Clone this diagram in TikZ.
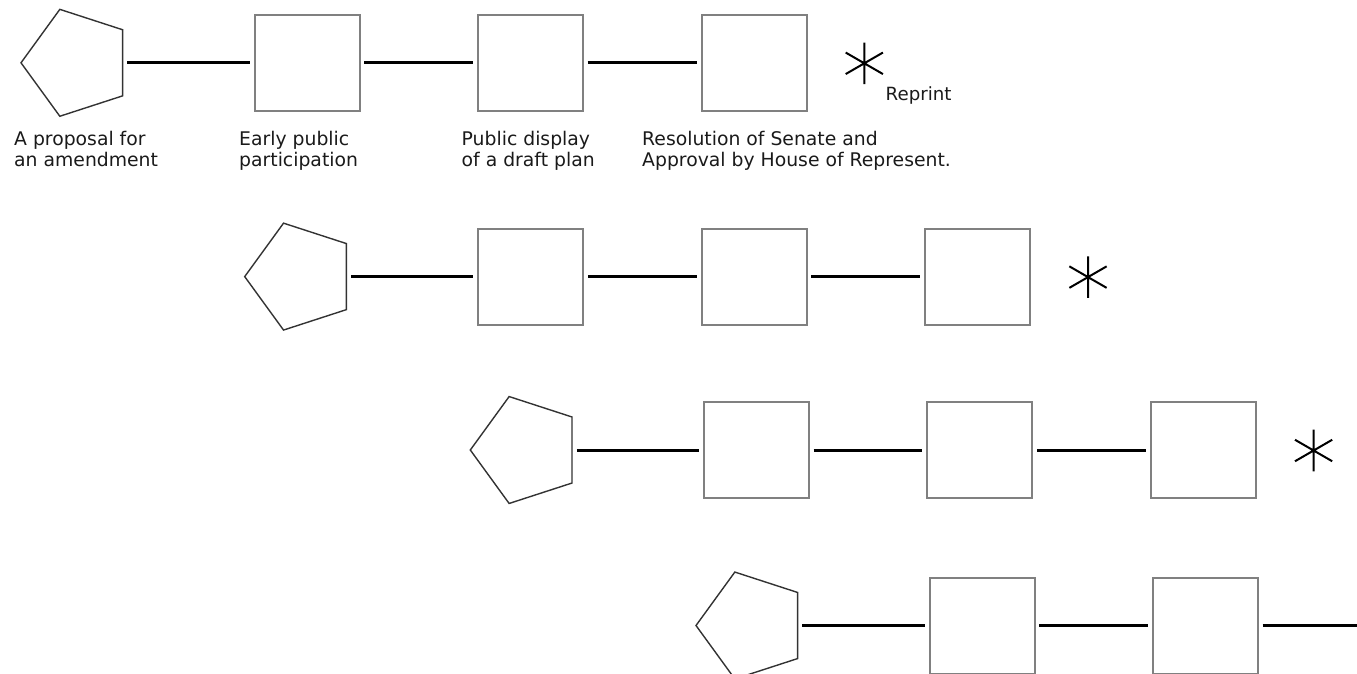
\documentclass[tikz,border=0pt]{standalone}
\usepackage{fontspec}
\setmainfont{DejaVu Sans}
\usetikzlibrary{shapes.geometric}
\definecolor{boxgray}{HTML}{808080}
\definecolor{pentgray}{HTML}{333333}
\definecolor{txt}{HTML}{1A1A1A}
\tikzset{
  pent/.style={regular polygon, regular polygon sides=5, shape border rotate=90,
    minimum size=112.4pt, inner sep=0pt, outer sep=0pt, draw=pentgray, line width=1.4pt},
  stepbox/.style={rectangle, minimum width=105pt, minimum height=96pt, inner sep=0pt,
    outer sep=0pt, draw=boxgray, line width=2pt},
  conn/.style={line width=3pt, black, shorten <=4.8pt, shorten >=5pt},
  astr/.style={line width=2pt, black},
  lbl/.style={anchor=north west, inner sep=0pt, align=left, text=txt,
    font=\fontsize{18.8}{21}\selectfont},
  smalllbl/.style={anchor=base west, inner sep=0pt, text=txt,
    font=\fontsize{18.2}{20}\selectfont}
}
\begin{document}
\begin{tikzpicture}[x=1pt,y=-1pt]
\useasboundingbox (0,0) rectangle (1357,673);
\clip (0,0) rectangle (1357,673);
\foreach \r/\dx/\dy in {1/0/0, 2/223.7/213.8, 3/449.3/387.2, 4/675/562.7} {
  \begin{scope}[shift={(\dx,\dy)}]
    \node[pent] (p\r) at (77.2,62.8) {};
    \node[stepbox] (ba\r) at (307,62.8) {};
    \node[stepbox] (bb\r) at (530.4,62.8) {};
    \node[stepbox] (bc\r) at (754.2,62.8) {};
    \coordinate (s\r) at (864.3,63.3);
    \draw[conn] (p\r) -- (ba\r);
    \draw[conn] (ba\r) -- (bb\r);
    \draw[conn] (bb\r) -- (bc\r);
    \draw[astr, shift={(s\r)}] (90:20.8) -- (270:20.8)
      (30:21.5) -- (210:21.5) (150:21.5) -- (330:21.5);
  \end{scope}
}
\node[lbl] (l1) at (14,130.7) {A proposal for\\an amendment};
\node[lbl] (l2) at (239,130.7) {Early public\\participation};
\node[lbl] (l3) at (461.5,130.7) {Public display\\of a draft plan};
\node[lbl] (l4) at (642,130.7) {Resolution of Senate and\\Approval by House of Represent.};
\node[smalllbl] (rp) at (885.5,100) {Reprint};
\end{tikzpicture}
\end{document}
